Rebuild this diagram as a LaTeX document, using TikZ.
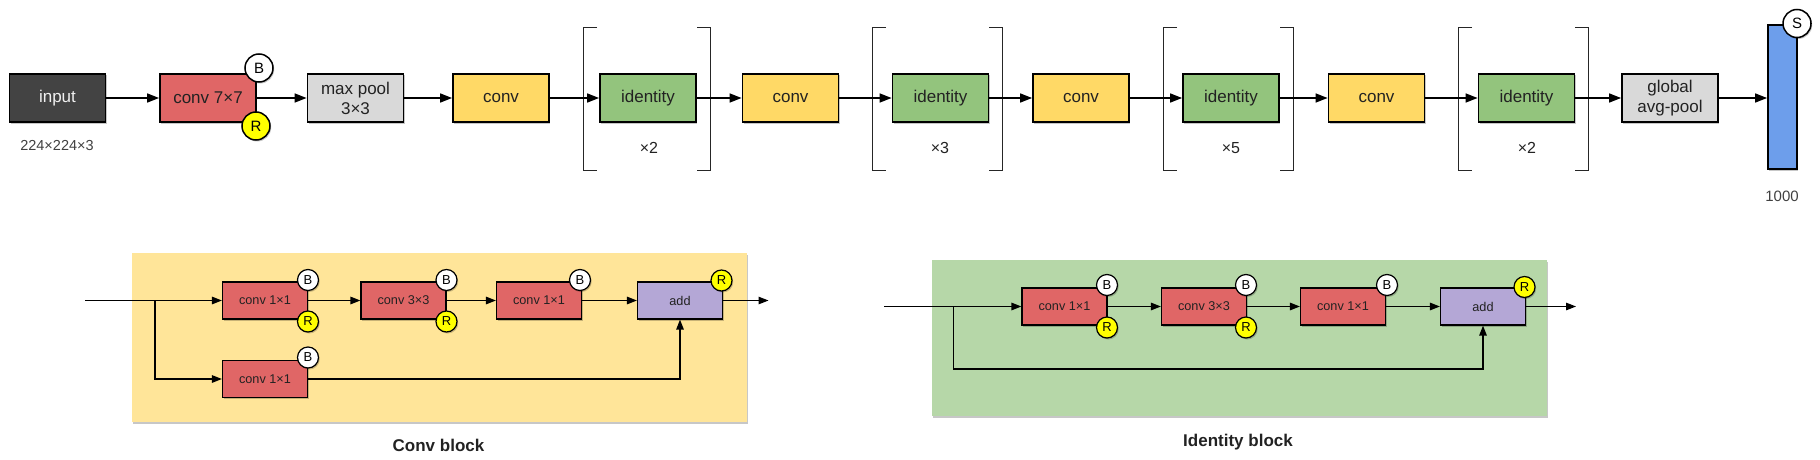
\documentclass[tikz,border=0pt]{standalone}
\usepackage{fontspec}
\setmainfont{Liberation Sans}
\usetikzlibrary{arrows.meta,shadows}
\definecolor{cred}{HTML}{E06666}
\definecolor{cgray}{HTML}{D9D9D9}
\definecolor{cyel}{HTML}{FFD966}
\definecolor{cgreen}{HTML}{93C47D}
\definecolor{cblue}{HTML}{6D9EEB}
\definecolor{cpurp}{HTML}{B4A7D6}
\definecolor{cdark}{HTML}{434343}
\definecolor{bgyel}{HTML}{FFE599}
\definecolor{bggreen}{HTML}{B6D7A8}
\definecolor{ctext}{HTML}{222222}
\definecolor{cyellow}{HTML}{FFFF00}
\tikzset{
  myshadow/.style={drop shadow={shadow xshift=1.2pt,shadow yshift=-1.5pt,opacity=.22,fill=black}},
  topbox/.style={draw=black,line width=1.8pt,minimum width=96pt,minimum height=48pt,inner sep=0pt,
    font=\fontsize{17}{20}\selectfont,text=ctext,align=center,myshadow},
  sbox/.style={draw=black,line width=1.2pt,minimum width=85pt,minimum height=37pt,inner sep=0pt,
    font=\fontsize{12.7}{14}\selectfont,text=ctext,align=center,myshadow},
  bgbox/.style={draw=none,inner sep=0pt,myshadow},
  circ/.style={circle,draw=black,line width=1.5pt,fill=white,minimum size=28pt,inner sep=0pt,
    font=\fontsize{15}{15}\selectfont,myshadow},
  scirc/.style={circle,draw=black,line width=1.2pt,fill=white,minimum size=21pt,inner sep=0pt,
    font=\fontsize{13}{13}\selectfont,myshadow},
  arr/.style={line width=1.5pt,-{Triangle[length=12pt,width=9pt]}},
  sarr/.style={line width=1.3pt,-{Triangle[length=10pt,width=7.5pt]}},
  sline/.style={line width=1.3pt},
  brk/.style={line width=1pt,black!85},
  lbl/.style={text=ctext,inner sep=0pt},
}
\begin{document}
\begin{tikzpicture}[x=1pt,y=-1pt]
\useasboundingbox (0,0) rectangle (1820,460);
% ---------- top row ----------
\node[topbox,fill=cdark,text=white!94!black] (input) at (57.5,98) {input};
\node[topbox,fill=cred] (c7) at (208,98) {conv 7×7};
\node[topbox,fill=cgray] (mp) at (355.5,98) {max pool\\3×3};
\node[topbox,fill=cyel] (cv1) at (501,98) {conv};
\node[topbox,fill=cgreen] (id1) at (648,98) {identity};
\node[topbox,fill=cyel] (cv2) at (790.5,98) {conv};
\node[topbox,fill=cgreen] (id2) at (940.5,98) {identity};
\node[topbox,fill=cyel] (cv3) at (1081,98) {conv};
\node[topbox,fill=cgreen] (id3) at (1231,98) {identity};
\node[topbox,fill=cyel] (cv4) at (1376.5,98) {conv};
\node[topbox,fill=cgreen] (id4) at (1526.5,98) {identity};
\node[topbox,fill=cgray] (gap) at (1670,98) {global\\avg-pool};
\node[draw=black,line width=1.8pt,fill=cblue,minimum width=29pt,minimum height=144pt,inner sep=0pt,myshadow] (fc) at (1782.5,97) {};
\node[circ] (b0) at (259,68) {B};
\node[circ,fill=cyellow] (r0) at (256,126) {R};
\node[circ] (s0) at (1797,23.5) {S};
\node[lbl,font=\fontsize{14.5}{16}\selectfont,text=black!75] (dim) at (57,146) {224×224×3};
\node[lbl,font=\fontsize{16}{18}\selectfont] (x1) at (649,148) {×2};
\node[lbl,font=\fontsize{16}{18}\selectfont] (x2) at (940,148) {×3};
\node[lbl,font=\fontsize{16}{18}\selectfont] (x3) at (1231,148) {×5};
\node[lbl,font=\fontsize{16}{18}\selectfont] (x4) at (1527,148) {×2};
\node[lbl,font=\fontsize{15}{17}\selectfont,text=black!75] (out) at (1782,196) {1000};
% brackets
\foreach \l/\r in {583/710,872/1002,1163/1293,1458/1588}{
  \draw[brk] (\l+14,28) -- (\l,28) -- (\l,170) -- (\l+14,170);
  \draw[brk] (\r-13,28) -- (\r,28) -- (\r,170) -- (\r-13,170);
}
% arrows
\draw[arr] (input) -- (c7);
\draw[arr] (c7) -- (mp);
\draw[arr] (mp) -- (cv1);
\draw[arr] (cv1) -- (id1);
\draw[arr] (id1) -- (cv2);
\draw[arr] (cv2) -- (id2);
\draw[arr] (id2) -- (cv3);
\draw[arr] (cv3) -- (id3);
\draw[arr] (id3) -- (cv4);
\draw[arr] (cv4) -- (id4);
\draw[arr] (id4) -- (gap);
\draw[arr] (gap.east) -- (fc.west |- gap.east);
% ---------- conv block ----------
\node[bgbox,fill=bgyel,minimum width=615pt,minimum height=169pt] (cbg) at (439.2,337.5) {};
\coordinate (ci) at (85,300.5);
\coordinate (cbr) at (155,300.5);
\coordinate (co) at (768.5,300.5);
\node[sbox,fill=cred] (ca) at (265,300.5) {conv 1×1};
\node[sbox,fill=cred] (cb) at (403.5,300.5) {conv 3×3};
\node[sbox,fill=cred] (cc) at (539,300.5) {conv 1×1};
\node[sbox,fill=cpurp] (cadd) at (680,300.5) {add};
\node[sbox,fill=cred] (cs) at (265,379) {conv 1×1};
\draw[sarr] (ci) -- (ca);
\draw[sarr] (cbr) |- (cs);
\draw[sarr] (ca) -- (cb);
\draw[sarr] (cb) -- (cc);
\draw[sarr] (cc) -- (cadd);
\draw[sarr] (cadd) -- (co);
\draw[sarr] (cs) -| (cadd);
\node[scirc] (cab) at (308,280) {B};
\node[scirc,fill=cyellow] (car) at (308,321.5) {R};
\node[scirc] (cbb) at (446.5,280) {B};
\node[scirc,fill=cyellow] (cbrr) at (446.5,321.5) {R};
\node[scirc] (ccb) at (580,280) {B};
\node[scirc,fill=cyellow] (caddr) at (721.5,280.5) {R};
\node[scirc] (csb) at (308,357.5) {B};
\node[lbl,font=\bfseries\fontsize{17}{19}\selectfont] (ctitle) at (438.5,445) {Conv block};
% ---------- identity block ----------
\node[bgbox,fill=bggreen,minimum width=615pt,minimum height=156pt] (ibg) at (1239,338) {};
\coordinate (ii) at (884,306.5);
\coordinate (ibr) at (953.5,306.5);
\coordinate (ilow) at (953.5,369);
\coordinate (iseg) at (1022,369);
\coordinate (io) at (1576,306.5);
\node[sbox,fill=cred] (ia) at (1064.5,306.5) {conv 1×1};
\node[sbox,fill=cred] (ib) at (1204,306.5) {conv 3×3};
\node[sbox,fill=cred] (ic) at (1343,306.5) {conv 1×1};
\node[sbox,fill=cpurp] (iadd) at (1483,306.5) {add};
\draw[sarr] (ii) -- (ia);
\draw[sarr] (ia) -- (ib);
\draw[sarr] (ib) -- (ic);
\draw[sarr] (ic) -- (iadd);
\draw[sarr] (iadd) -- (io);
\draw[sarr] (ibr) -- (ilow) -| (iadd);
\draw[line width=2pt] (ilow) -- (iseg);
\node[scirc] (iab) at (1107,285) {B};
\node[scirc,fill=cyellow] (iar) at (1107,327.5) {R};
\node[scirc] (ibb) at (1246,285) {B};
\node[scirc,fill=cyellow] (ibrr) at (1246,327.5) {R};
\node[scirc] (icb) at (1387,285) {B};
\node[scirc,fill=cyellow] (iaddr) at (1524.5,287) {R};
\node[lbl,font=\bfseries\fontsize{17}{19}\selectfont] (ititle) at (1238,442) {Identity block};
\end{tikzpicture}
\end{document}
